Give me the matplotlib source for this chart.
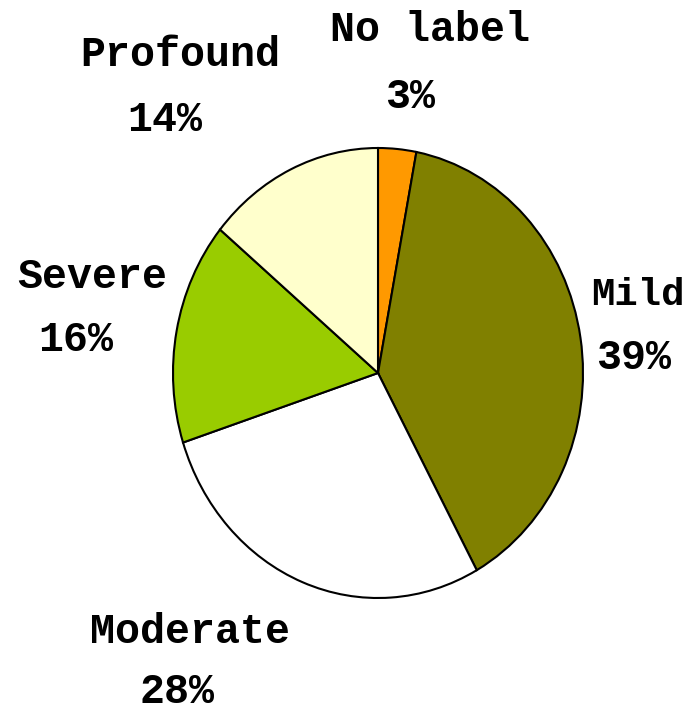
import matplotlib.pyplot as plt

# Pie data, clockwise from 12 o'clock
labels = ['No label', 'Mild', 'Moderate', 'Severe', 'Profound']
values = [3, 39, 28, 16, 14]
colors = ['#FF9900', '#808000', '#FFFFFF', '#99CC00', '#FFFFCC']

# label text positions in pixels (name line, percent line)
W, H = 690, 712
cx, cy, rx, ry = 378, 373, 205, 225
name_pos = [(430, 30), (638, 295), (190, 632), (92, 277), (180, 55)]
pct_pos = [(410, 97), (634, 358), (177, 692), (76, 340), (165, 120)]
name_size = [30, 28, 30, 30, 30]


def px(x, y):
    # pixel coords -> data coords of the pie axes
    return (x - cx) / rx, (cy - y) / ry


fig = plt.figure(figsize=(W / 100, H / 100), dpi=100)
ax = fig.add_axes((0, 0, 1, 1))

ax.pie(values, colors=colors, startangle=90, counterclock=False, radius=1,
       wedgeprops=dict(edgecolor='black', linewidth=1.5))
ax.set_aspect('auto')
ax.set_xlim(-cx / rx, (W - cx) / rx)
ax.set_ylim(-(H - cy) / ry, cy / ry)
ax.axis('off')

font = dict(family='Liberation Mono', weight='bold', ha='center', va='center')
for lab, v, p1, p2, s in zip(labels, values, name_pos, pct_pos, name_size):
    ax.text(*px(*p1), lab, size=s, **font)
    ax.text(*px(*p2), '%d%%' % v, size=30, **font)

fig.savefig('out.png', dpi=100)
